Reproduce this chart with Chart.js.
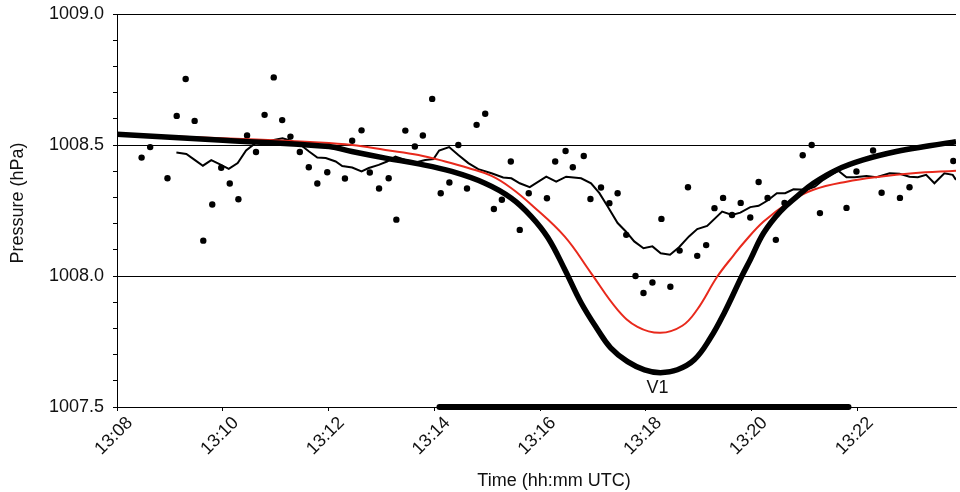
<!DOCTYPE html>
<html>
<head>
<meta charset="utf-8">
<script src="https://cdn.jsdelivr.net/npm/chart.js@4/dist/chart.umd.min.js"></script>
<style>
  html, body { margin: 0; padding: 0; background: #fff; }
  canvas { display: block; }
</style>
</head>
<body>
<canvas id="c" width="960" height="492"></canvas>
<script>
// Time values are minutes after 13:00 UTC; pressures in hPa.
const xTickValues = [8, 10, 12, 14, 16, 18, 20, 22];
const xTickLabels = ['13:08', '13:10', '13:12', '13:14', '13:16', '13:18', '13:20', '13:22'];
const yTickValues = [1007.5, 1007.6, 1007.7, 1007.8, 1007.9, 1008.0, 1008.1, 1008.2, 1008.3, 1008.4, 1008.5, 1008.6, 1008.7, 1008.8, 1008.9, 1009.0];
const yTickLabels = ['1007.5', '', '', '', '', '1008.0', '', '', '', '', '1008.5', '', '', '', '', '1009.0'];

// Observed pressure (dots)
const obsTime = [8.465, 8.627, 8.954, 9.129, 9.298, 9.468, 9.631, 9.801, 9.970, 10.132,
  10.295, 10.459, 10.628, 10.790, 10.963, 11.123, 11.279, 11.456, 11.626, 11.787,
  11.975, 12.309, 12.446, 12.623, 12.779, 12.954, 13.136, 13.281, 13.451, 13.631,
  13.782, 13.959, 14.120, 14.284, 14.453, 14.617, 14.798, 14.961, 15.125, 15.276,
  15.445, 15.614, 15.784, 16.128, 16.284, 16.480, 16.617, 16.824, 16.950, 17.150,
  17.308, 17.464, 17.627, 17.802, 17.953, 18.122, 18.292, 18.461, 18.636, 18.794,
  18.969, 19.138, 19.295, 19.458, 19.627, 19.791, 19.972, 20.130, 20.299, 20.455,
  20.619, 20.963, 21.133, 21.289, 21.791, 21.979, 22.293, 22.455, 22.801, 22.982,
  23.810];
const obsPressure = [1008.452, 1008.492, 1008.373, 1008.611, 1008.752, 1008.592, 1008.135, 1008.273, 1008.413, 1008.353,
  1008.293, 1008.536, 1008.473, 1008.615, 1008.758, 1008.595, 1008.532, 1008.473, 1008.415, 1008.353,
  1008.396, 1008.372, 1008.516, 1008.556, 1008.395, 1008.334, 1008.373, 1008.215, 1008.555, 1008.494,
  1008.536, 1008.676, 1008.316, 1008.357, 1008.500, 1008.334, 1008.577, 1008.619, 1008.256, 1008.291,
  1008.437, 1008.176, 1008.316, 1008.297, 1008.437, 1008.477, 1008.415, 1008.458, 1008.294, 1008.338,
  1008.278, 1008.316, 1008.157, 1008.000, 1007.935, 1007.975, 1008.218, 1007.959, 1008.097, 1008.339,
  1008.077, 1008.118, 1008.259, 1008.298, 1008.233, 1008.279, 1008.223, 1008.359, 1008.298, 1008.138,
  1008.279, 1008.461, 1008.500, 1008.240, 1008.260, 1008.399, 1008.479, 1008.318, 1008.298, 1008.339,
  1008.439];

// Running mean (thin black line)
const meanTime = [9.123, 9.311, 9.468, 9.624, 9.782, 9.938, 10.113, 10.282, 10.440, 10.628,
  10.817, 11.129, 11.287, 11.475, 11.631, 11.787, 11.946, 12.134, 12.258, 12.446,
  12.623, 12.760, 12.948, 13.105, 13.263, 13.451, 13.639, 13.827, 13.983, 14.090,
  14.279, 14.453, 14.642, 14.830, 15.080, 15.300, 15.456, 15.614, 15.803, 16.115,
  16.303, 16.491, 16.774, 16.962, 17.120, 17.276, 17.464, 17.620, 17.778, 17.953,
  18.122, 18.279, 18.455, 18.625, 18.813, 18.969, 19.157, 19.440, 19.628, 19.784,
  19.972, 20.130, 20.299, 20.474, 20.631, 20.788, 21.039, 21.195, 21.353, 21.635,
  21.791, 21.947, 22.168, 22.356, 22.606, 22.794, 22.982, 23.140, 23.297, 23.453,
  23.641, 23.799, 23.861];
const meanPressure = [1008.471, 1008.466, 1008.443, 1008.421, 1008.442, 1008.427, 1008.409, 1008.431, 1008.479, 1008.509,
  1008.513, 1008.526, 1008.516, 1008.500, 1008.475, 1008.452, 1008.450, 1008.437, 1008.420, 1008.414,
  1008.399, 1008.412, 1008.424, 1008.437, 1008.456, 1008.443, 1008.433, 1008.443, 1008.446, 1008.479,
  1008.492, 1008.462, 1008.431, 1008.408, 1008.392, 1008.376, 1008.373, 1008.354, 1008.339, 1008.379,
  1008.360, 1008.379, 1008.373, 1008.354, 1008.316, 1008.265, 1008.202, 1008.170, 1008.132, 1008.106,
  1008.113, 1008.087, 1008.081, 1008.110, 1008.151, 1008.179, 1008.191, 1008.246, 1008.233, 1008.242,
  1008.263, 1008.268, 1008.288, 1008.316, 1008.316, 1008.331, 1008.329, 1008.341, 1008.367, 1008.402,
  1008.377, 1008.377, 1008.382, 1008.377, 1008.392, 1008.390, 1008.379, 1008.377, 1008.386, 1008.354,
  1008.392, 1008.386, 1008.367];

// Red fitted curve
const fitTime = [8.000, 10.502, 11.819, 12.446, 13.074, 13.701, 14.203, 14.642, 15.080, 15.456,
  15.833, 16.461, 16.962, 17.464, 17.840, 18.273, 18.687, 18.969, 19.346, 19.660,
  19.853, 20.224, 20.725, 21.165, 21.791, 22.418, 23.047, 23.861];
const fitPressure = [1008.540, 1008.522, 1008.510, 1008.500, 1008.481, 1008.462, 1008.437, 1008.412, 1008.382, 1008.335,
  1008.272, 1008.151, 1008.011, 1007.871, 1007.806, 1007.783, 1007.810, 1007.872, 1007.997, 1008.080,
  1008.128, 1008.208, 1008.284, 1008.329, 1008.360, 1008.379, 1008.392, 1008.402];

// Thick black vortex model curve
const modelTime = [8.000, 10.004, 12.008, 12.440, 13.074, 13.701, 14.328, 14.956, 15.456, 15.833, 16.147,
  16.467, 16.768, 17.088, 17.332, 17.652, 17.972, 18.273, 18.593, 18.913, 19.214,
  19.477, 19.816, 19.972, 20.224, 20.537, 20.851, 21.165, 21.603, 22.106, 22.732,
  23.359, 23.861];
const modelPressure = [1008.541, 1008.518, 1008.494, 1008.475, 1008.450, 1008.428, 1008.399, 1008.354, 1008.297, 1008.227, 1008.146,
  1008.024, 1007.900, 1007.795, 1007.726, 1007.673, 1007.642, 1007.631, 1007.642, 1007.680, 1007.762,
  1007.858, 1008.001, 1008.062, 1008.164, 1008.246, 1008.303, 1008.354, 1008.405, 1008.443, 1008.475,
  1008.497, 1008.513];

// Duration bar along the x axis
const durationTime = [14.096, 21.829];
const durationPressure = [1007.5, 1007.5];

// Annotation
const annotationText = 'V1';
const annotationTime = 18.22;
const annotationPressure = 1007.574;

const FONT = '"Liberation Sans", Arial, sans-serif';
const zip = (xs, ys) => xs.map((x, i) => ({ x: x, y: ys[i] }));

const labelPlugin = {
  id: 'labelPlugin',
  afterDraw(chart) {
    const ctx = chart.ctx;
    const xs = chart.scales.x, ys = chart.scales.y;
    ctx.save();
    ctx.fillStyle = '#111';
    ctx.font = '18px ' + FONT;
    ctx.textAlign = 'center';
    ctx.textBaseline = 'middle';
    xs.ticks.forEach((t, i) => {
      const px = xs.getPixelForValue(t.value);
      ctx.save();
      ctx.translate(px - 3, xs.top + 29);
      ctx.rotate(-Math.PI / 4);
      ctx.fillText(xTickLabels[i], 0, 0);
      ctx.restore();
    });
    ctx.fillText(annotationText, xs.getPixelForValue(annotationTime), ys.getPixelForValue(annotationPressure));
    ctx.restore();
  }
};

new Chart(document.getElementById('c'), {
  type: 'line',
  data: {
    datasets: [
      {
        data: zip(modelTime, modelPressure),
        borderColor: '#000', borderWidth: 5.5, pointRadius: 0,
        tension: 0.4, fill: false, order: 0
      },
      {
        data: zip(fitTime, fitPressure),
        borderColor: '#e8291c', borderWidth: 2, pointRadius: 0,
        tension: 0.4, fill: false, order: 1
      },
      {
        data: zip(meanTime, meanPressure),
        borderColor: '#000', borderWidth: 2, pointRadius: 0,
        tension: 0, fill: false, order: 2
      },
      {
        data: zip(obsTime, obsPressure),
        showLine: false, pointRadius: 3.2, pointBorderWidth: 0,
        pointBackgroundColor: '#000', pointBorderColor: '#000', order: 3
      },
      {
        data: zip(durationTime, durationPressure),
        borderColor: '#000', borderWidth: 6, borderCapStyle: 'round',
        pointRadius: 0, clip: false, order: 0
      }
    ]
  },
  options: {
    responsive: false,
    animation: false,
    events: [],
    layout: { padding: { top: 14, right: 0, left: 0, bottom: 0 } },
    plugins: { legend: { display: false }, tooltip: { enabled: false } },
    scales: {
      x: {
        type: 'linear',
        min: 8,
        max: 23.861,
        afterBuildTicks: s => { s.ticks = xTickValues.map(v => ({ value: v })); },
        afterFit: s => { s.height = 85; s.paddingLeft = 0; s.paddingRight = 0; },
        ticks: { display: false },
        grid: { drawOnChartArea: false, drawTicks: true, tickLength: 4, tickColor: '#000', tickWidth: 1 },
        border: { display: true, color: '#000', width: 1 },
        title: {
          display: true,
          text: '       Time (hh:mm UTC)',
          color: '#111',
          font: { family: FONT, size: 18 },
          padding: { top: 3, bottom: 0 }
        }
      },
      y: {
        type: 'linear',
        min: 1007.5,
        max: 1009.0,
        afterBuildTicks: s => { s.ticks = yTickValues.map(v => ({ value: v })); },
        afterFit: s => { s.width = 117; s.paddingTop = 0; s.paddingBottom = 0; },
        ticks: {
          autoSkip: false,
          callback: (v, i) => yTickLabels[i],
          color: '#111',
          font: { family: FONT, size: 18 },
          padding: 9
        },
        grid: {
          color: c => (c.type === 'tick' || c.tick) && yTickLabels[c.index] !== '' ? '#000' : 'rgba(0,0,0,0)',
          tickColor: '#000',
          tickLength: 4,
          lineWidth: 1
        },
        border: { display: true, color: '#000', width: 1 },
        title: {
          display: true,
          text: '   Pressure (hPa)',
          color: '#111',
          font: { family: FONT, size: 18 },
          padding: { top: 7, bottom: 0 }
        }
      }
    }
  },
  plugins: [labelPlugin]
});
</script>
</body>
</html>
